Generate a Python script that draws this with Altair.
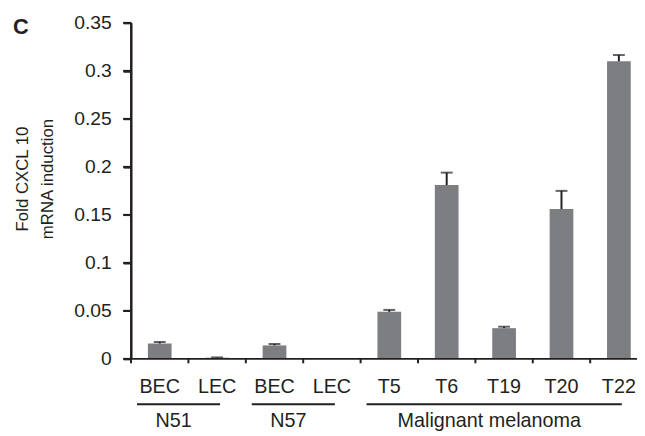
import altair as alt
import pandas as pd

# ---- data ----
panel_label = "C"
categories = ["BEC", "LEC", "BEC", "LEC", "T5", "T6", "T19", "T20", "T22"]
cat_groups = ["N51", "N51", "N57", "N57",
              "Malignant melanoma", "Malignant melanoma", "Malignant melanoma",
              "Malignant melanoma", "Malignant melanoma"]
values = [0.016, 0.0012, 0.014, 0.0, 0.049, 0.181, 0.032, 0.156, 0.310]
err_top = [0.0175, 0.0015, 0.0155, None, 0.051, 0.194, 0.0335, 0.175, 0.3165]
group_names = ["N51", "N57", "Malignant melanoma"]
y_ticks = [0, 0.05, 0.1, 0.15, 0.2, 0.25, 0.3, 0.35]
y_title = ["Fold CXCL 10", "mRNA induction"]

ids = [f"{g}|{c}" for g, c in zip(cat_groups, categories)]
df = pd.DataFrame({"id": ids, "val": values, "err": err_top})
ydf = pd.DataFrame({"t": y_ticks, "id": [ids[0]] * len(y_ticks)})
yspan = pd.DataFrame({"lo": [min(y_ticks)], "hi": [max(y_ticks)], "id": [ids[0]]})

gstart = [cat_groups.index(g) for g in group_names]
gend = [len(cat_groups) - 1 - cat_groups[::-1].index(g) for g in group_names]
gdf = pd.DataFrame({"name": group_names, "start": gstart, "end": gend})

BAR = "#7d7e82"
DARK = "#231f20"
FONT = "Liberation Sans"
PLOT_W = 512
PLOT_H = 340
RANGE_W = 522.7
STEP = RANGE_W / len(categories)

xscale = alt.Scale(domain=ids, range=[0, RANGE_W], paddingInner=0.587, paddingOuter=0.2935)
yscale = alt.Scale(domain=[0, 0.35], nice=False)

xaxis = alt.Axis(title=None, labelExpr="split(datum.value, '|')[1]",
                 domain=False, ticks=False, labelAngle=0,
                 labelPadding=18, labelFontSize=20)
yaxis = alt.Axis(values=y_ticks, format=".2~f", title=y_title,
                 domain=True, ticks=True, tickSize=8,
                 domainColor=DARK, domainWidth=2, tickColor=DARK, tickWidth=2,
                 titleFontSize=17, titleFontWeight="normal",
                 titleAngle=270, titleBaseline="alphabetic",
                 titleAlign="center", titleLineHeight=25,
                 titleX=-104.5, titleY=157.5,
                 labelPadding=12, labelFontSize=19.5)

bars = alt.Chart(df).mark_bar(color=BAR).encode(
    x=alt.X("id:N", sort=ids, scale=xscale, axis=xaxis),
    y=alt.Y("val:Q", scale=yscale, axis=yaxis),
)

valid = df[df["err"].notna()]

stems = alt.Chart(valid).mark_rule(color=DARK, strokeWidth=2).encode(
    x=alt.X("id:N", sort=ids, scale=xscale, axis=xaxis),
    y=alt.Y("val:Q", scale=yscale, axis=yaxis),
    y2="err:Q",
)

caps = alt.Chart(valid).mark_tick(color=DARK, thickness=2, size=12).encode(
    x=alt.X("id:N", sort=ids, scale=xscale, axis=xaxis),
    y=alt.Y("err:Q", scale=yscale, axis=yaxis),
)

# hand-drawn axis lines and ticks
y_line = alt.Chart(yspan).mark_rule(
    color=DARK, strokeWidth=2, xOffset=-STEP / 2, clip=False
).encode(
    x=alt.X("id:N", sort=ids, scale=xscale, axis=xaxis),
    y=alt.Y("lo:Q", scale=yscale, axis=yaxis),
    y2="hi:Q",
)
y_tick_marks = alt.Chart(ydf).mark_rule(
    color=DARK, strokeWidth=2, xOffset=-STEP / 2 - 8, x2Offset=-STEP / 2, clip=False
).encode(
    x=alt.X("id:N", sort=ids, scale=xscale, axis=xaxis),
    x2="id:N",
    y=alt.Y("t:Q", scale=yscale, axis=yaxis),
)
x_line = alt.Chart(yspan).mark_rule(color=DARK, strokeWidth=2, clip=False).encode(
    x=alt.value(-1), x2=alt.value(RANGE_W),
    y=alt.Y("lo:Q", scale=yscale, axis=yaxis),
)
x_tick_marks = alt.Chart(df).mark_rule(
    color=DARK, strokeWidth=2, xOffset=-STEP / 2, clip=False
).encode(
    x=alt.X("id:N", sort=ids, scale=xscale, axis=xaxis),
    y=alt.value(PLOT_H), y2=alt.value(PLOT_H + 4.5),
)

panel = alt.Chart(pd.DataFrame({"t": [panel_label]})).mark_text(
    font=FONT, fontSize=22, fontWeight="bold", color=DARK,
    align="left", baseline="alphabetic"
).encode(x=alt.value(-119.5), y=alt.value(11.5), text="t:N")

main = alt.layer(bars, stems, caps, y_line, y_tick_marks, x_line, x_tick_marks, panel)

gscale = alt.Scale(domain=[0, len(categories)], range=[0, RANGE_W], nice=False, zero=False)

glines = alt.Chart(gdf).transform_calculate(
    s="datum.start + 0.5", e="datum.end + 0.5"
).mark_rule(color=DARK, strokeWidth=2, xOffset=-23, x2Offset=3).encode(
    x=alt.X("s:Q", scale=gscale, axis=None),
    x2="e:Q",
    y=alt.value(386),
)

gtext = alt.Chart(gdf).transform_calculate(
    m="(datum.start + datum.end) / 2 + 0.5"
).mark_text(font=FONT, fontSize=20, color=DARK, align="center",
            baseline="alphabetic", dx=-15).encode(
    x=alt.X("m:Q", scale=gscale, axis=None),
    y=alt.value(409),
    text="name:N",
)

annot = alt.layer(glines, gtext)

chart = alt.layer(main, annot).resolve_scale(x="independent").properties(
    width=PLOT_W,
    height=PLOT_H,
    autosize=alt.AutoSizeParams(type="none"),
    padding={"left": 124.5, "top": 12.5, "right": 0, "bottom": 75.5},
).configure(
    background="white",
    view=alt.ViewConfig(stroke=None),
    axis=alt.AxisConfig(grid=False, labelFont=FONT, labelColor=DARK,
                        titleFont=FONT, titleColor=DARK),
)

chart.save("out.html", embed_options={"renderer": "svg", "actions": False})
